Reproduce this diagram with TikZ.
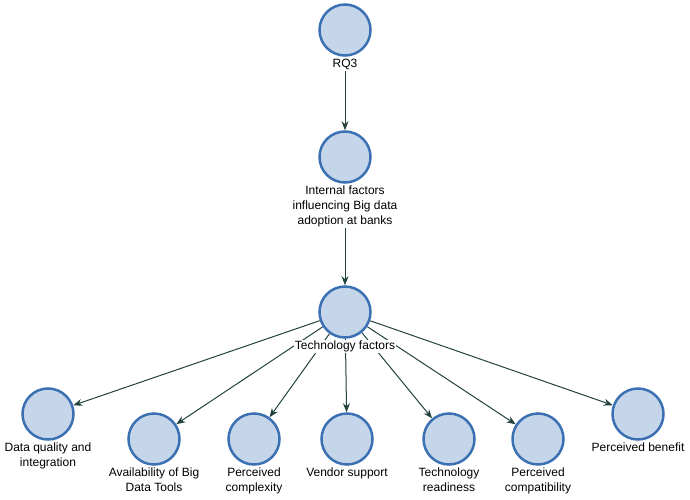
\documentclass[tikz,border=0pt]{standalone}
\usepackage{fontspec}
\setmainfont{Liberation Sans}
\usepackage{tikz}
\usetikzlibrary{positioning,arrows.meta,backgrounds}

\definecolor{nodefill}{HTML}{C6D6EA}
\definecolor{nodeedge}{HTML}{3B70B2}
\definecolor{linecol}{HTML}{22423E}

\begin{document}
\begin{tikzpicture}[
    x=1pt, y=-1pt,
    factor/.style={circle, draw=nodeedge, fill=nodefill, line width=2.5pt, minimum size=51pt, inner sep=0pt},
    lbl/.style={align=center, font=\fontsize{12}{15}\selectfont, fill=white, inner sep=1pt},
    arrow/.style={-{Stealth[length=9pt, width=7pt]}, draw=linecol, line width=1pt}
]
    \useasboundingbox (0,0) rectangle (690,500);

    % Top chain
    \node[factor] (rq) at (345,30) {};
    \node[lbl, below=1pt of rq] (rqlbl) {RQ3};
    \node[factor] (inf) at (345,157) {};
    \node[lbl, below=1pt of inf] (inflbl) {Internal factors\\influencing Big data\\adoption at banks};
    \node[factor] (tech) at (345,312) {};

    % Factor nodes
    \node[factor] (dq) at (48,414) {};
    \node[factor] (avail) at (154,439) {};
    \node[factor] (cmplx) at (254,439) {};
    \node[factor] (vendor) at (347,439) {};
    \node[factor] (ready) at (449,439) {};
    \node[factor] (compat) at (538,439) {};
    \node[factor] (benefit) at (638,414) {};

    % Labels
    \node[lbl, below=1pt of dq] (dqlbl) {Data quality and\\integration};
    \node[lbl, below=1pt of avail] (availlbl) {Availability of Big\\Data Tools};
    \node[lbl, below=1pt of cmplx] (cmplxlbl) {Perceived\\complexity};
    \node[lbl, below=1pt of vendor] (vendorlbl) {Vendor support};
    \node[lbl, below=1pt of ready] (readylbl) {Technology\\readiness};
    \node[lbl, below=1pt of compat] (compatlbl) {Perceived\\compatibility};
    \node[lbl, below=1pt of benefit] (benefitlbl) {Perceived benefit};

    % Arrows
    \begin{scope}[on background layer]
        \draw[arrow] (rqlbl) -- (inf);
        \draw[arrow] (inflbl) -- (tech);
        \foreach \target in {dq, avail, cmplx, vendor, ready, compat, benefit}
            \draw[arrow] (tech) -- (\target);
    \end{scope}

    \node[lbl, below=1pt of tech] (techlbl) {Technology factors};
\end{tikzpicture}
\end{document}
